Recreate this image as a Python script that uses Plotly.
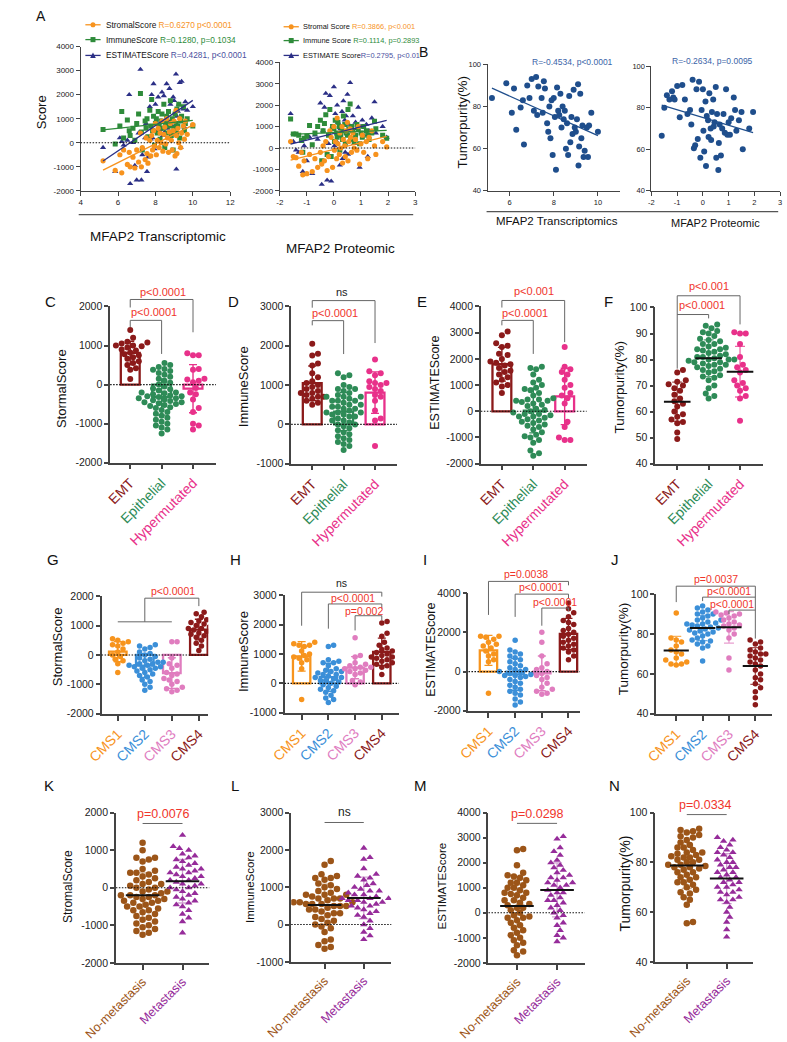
import numpy as np
import plotly.graph_objects as go

W, H = 787, 1042
FONT = "Liberation Sans, Arial, Helvetica, sans-serif"

# ------------------------------------------------------------------ data
# Panels A/B: MFAP2 expression (transcriptomic / proteomic) vs scores
mfap2_transcriptomic = [5.2, 5.85, 6.1, 6.2, 6.3, 6.5, 6.6, 6.65, 6.8, 6.9,
                        7.0, 7.1, 7.2, 7.25, 7.3, 7.45, 7.5, 7.55, 7.6, 7.7,
                        7.75, 7.8, 7.85, 7.9, 7.95, 8.0, 8.05, 8.1, 8.15, 8.2,
                        8.25, 8.3, 8.35, 8.4, 8.45, 8.5, 8.55, 8.6, 8.65, 8.7,
                        8.75, 8.8, 8.85, 8.9, 8.95, 9.0, 9.05, 9.1, 9.12, 9.15,
                        9.2, 9.25, 9.3, 9.35, 9.4, 9.5, 9.55, 9.6, 9.7, 10.0]
stromal_t = [-750, -1150, -500, -1250, -300, -900, -400, -1000, -600, -1050,
             -300, -800, 400, -1000, -200, -700, 200, -450, -850, 100,
             -550, 300, -300, 500, -150, 800, -500, 100, 600, -200,
             400, 0, 900, -350, 350, 650, -50, 1000, 200, -400,
             450, 800, 100, -300, 500, 900, -550, 1350, 300, -450,
             600, 0, 1000, -200, 400, 700, 150, 900, 350, 750]
immune_t = [550, -50, 700, 1300, 200, 950, 500, 300, 600, 100,
            800, 1200, 2050, 450, -300, 900, 600, 1000, 250, 1350,
            700, 1800, 500, 1100, -100, 800, 1000, 400, 1300, 700,
            150, 900, 1200, 600, 1600, -200, 800, 1100, 400, 1300,
            700, 1750, 300, 1000, -300, 600, 1200, 800, 400, 1400,
            700, 1600, 200, 900, 1100, 1500, 500, 800, 1000, 700]
estimate_t = [-200, -1200, 200, 50, -100, 100, 2000, -1700, 0, -950,
              -1550, 400, 3050, -1550, -500, 200, 800, -1200, -600, 1500,
              150, 2000, 200, 2450, -250, 1600, 500, 500, 1900, 500,
              550, 900, 2100, 300, 1950, 450, 750, 2450, 600, 900,
              2250, 1600, 400, 700, 1900, 1750, 650, 2850, -1100, 1100,
              1300, 1600, 2500, -200, 2550, 1400, 650, 1700, 1350, 1500]
purity_t = [84, 91, 77, 88.5, 69, 79.5, 83, 62, 90, 84,
            93, 78, 94, 76, 89.5, 84, 77, 92, 88.5, 72,
            68, 80, 65, 83, 57, 84, 75, 50, 89, 78,
            76, 86, 70, 80, 74, 78, 60, 72, 57, 85,
            63, 75, 67, 88, 70, 68, 74, 90.5, 52, 61,
            86, 65, 71, 56, 59, 70, 56, 71, 77, 68]

mfap2_proteomic = [-1.6, -1.5, -1.4, -1.3, -1.2, -1.15, -1.1, -1.0, -0.9, -0.8,
                   -0.7, -0.6, -0.5, -0.45, -0.4, -0.35, -0.3, -0.25, -0.2, -0.15,
                   -0.1, -0.05, 0.0, 0.02, 0.05, 0.1, 0.12, 0.15, 0.2, 0.22,
                   0.25, 0.3, 0.32, 0.35, 0.4, 0.42, 0.45, 0.5, 0.52, 0.55,
                   0.6, 0.62, 0.65, 0.7, 0.75, 0.8, 0.85, 0.9, 0.95, 1.0,
                   1.05, 1.1, 1.2, 1.25, 1.3, 1.4, 1.5, 1.55, 1.8, 1.95]
stromal_p = [300, -400, -450, -850, -200, -1250, -600, -1200, -300, -1100,
             -500, -900, -200, -750, 100, -600, 300, -1050, -400, 800,
             500, -900, 1000, -100, 300, -500, 1400, 200, -300, 700,
             0, 1000, -700, 400, 100, -400, 800, 1200, -600, 300,
             900, 500, -200, 700, 0, 400, -100, 1000, -750, 200,
             600, -200, 300, -500, 500, 800, 100, -300, 300, 50]
immune_p = [1350, 650, 650, 600, 350, -200, 450, 550, 1050, 150,
            700, 1000, 1300, -600, 800, 1150, 1550, -300, 600, 1800,
            -400, 1000, 900, 300, 1300, 700, 500, 1200, 1000, -100,
            600, 800, 400, 1500, 1100, 200, 700, 600, 1800, 900,
            2050, 400, 1000, 800, 300, 600, 1100, 900, 200, 700,
            500, 1000, 800, 600, 400, 700, 1250, 900, 600, 450]
estimate_p = [1600, 300, -100, -200, 300, -1100, 100, -600, 500, -1200,
              600, 400, 2100, -1700, 800, 1900, 2550, -1500, 200, 2450,
              -1550, 1000, 2850, 100, 1600, 300, 2000, 1200, 700, -800,
              900, 1700, -500, 2200, 1300, -200, 1500, 2500, -300, 1100,
              3050, 800, 400, 1500, 200, 1200, 900, 1900, -900, 1000,
              1300, 600, 1100, -400, 800, 1400, 2150, 700, 1000, 500]
purity_p = [66.5, 80, 86, 84, 88, 85, 84, 90.5, 75.5, 91,
            84, 77, 79, 72, 93.5, 60.5, 62, 89, 65, 92.5,
            56, 79, 89, 69, 59, 83, 52, 76, 74, 66,
            87, 70, 64.5, 78, 84, 71, 73, 90, 56, 77,
            50, 63, 72, 57, 70, 77, 68, 89, 67, 73,
            67, 75, 85, 79, 69, 74, 78, 60, 70, 78]

# Panels C-F: subtype groups
subtypes = ["EMT", "Epithelial", "Hypermutated"]
stromal_emt = [1400, 1200, 1100, 1080, 1050, 1000, 1000, 980, 950, 900, 870, 820, 780, 750, 700, 660, 600, 550, 500, 420, 380, 140]
stromal_epi = [550, 500, 450, 400, 380, 350, 300, 250, 200, 150, 100, 50, 0, -50, -100, -120, -150, -200, -200, -220, -250, -280, -300, -300, -320,
               -350, -350, -380, -400, -420, -450, -450, -480, -500, -520, -550, -580, -600, -650, -700, -750, -800, -850, -900, -950, -1000, -1050, -1100, -1150, -1250]
stromal_hyp = [800, 750, 750, 400, 380, 150, 130, 100, 60, -90, -200, -250, -380, -600, -700, -1000, -1050, -1150]
immune_emt = [2050, 1800, 1750, 1550, 1500, 1300, 1200, 1100, 1050, 1000, 950, 900, 850, 800, 800, 750, 700, 700, 650, 600, 550, 500]
immune_epi = [1300, 1250, 1200, 1000, 950, 900, 900, 850, 800, 750, 700, 700, 650, 600, 600, 550, 500, 500, 450, 400, 400, 350, 300, 300, 250,
              200, 200, 150, 100, 100, 50, 0, 0, -50, -100, -150, -200, -250, -300, -350, -400, -450, -500, -550, -650, 600, 450, 300, 700, 250]
immune_hyp = [1650, 1350, 1300, 1250, 1100, 1050, 1050, 1000, 950, 900, 850, 750, 700, 600, 350, 150, 100, -550]
estimate_emt = [3050, 2900, 2600, 2500, 2450, 2200, 2150, 2000, 1900, 1850, 1800, 1750, 1650, 1550, 1500, 1400, 1300, 1200, 1100, 1000, 950, 700]
estimate_epi = [1700, 1650, 1600, 1400, 1200, 1100, 1000, 900, 850, 800, 700, 600, 500, 450, 400, 400, 300, 250, 200, 100, 50, 0, -50, -100,
                -150, -200, -250, -300, -350, -400, -450, -500, -550, -600, -700, -800, -900, -950, -1000, -1100, -1200, -1500, -1600, -1700, 450, 350, -100, -200]
estimate_hyp = [2450, 1700, 1600, 1500, 1400, 1200, 1000, 900, 700, 600, 500, 300, -400, -600, -1000, -1100, -1100]
purity_emt = [76, 75, 72, 71.5, 70.5, 70, 69, 68, 66.5, 65, 64, 63, 62, 60, 59, 58, 57, 56, 55.5, 52, 49.5]
purity_epi = [93.5, 93, 92, 91, 90.5, 90, 89, 88, 87.5, 87, 86, 85, 84.5, 84, 83.5, 83, 82.5, 82, 81.5, 81, 80.5, 80, 80, 79.5, 79,
              78.5, 78, 78, 77.5, 77, 76.5, 76, 75.5, 75, 74, 73.5, 73, 72, 70, 69, 67, 66, 65, 80, 81, 79, 84, 86]
purity_hyp = [90.5, 90, 90, 86, 81, 78, 77, 76, 75, 72, 71, 70, 69, 68, 66, 65, 56.5]

# Panels G-J: CMS groups
cms = ["CMS1", "CMS2", "CMS3", "CMS4"]
stromal_cms1 = [550, 500, 450, 400, 350, 300, 200, 100, 0, -50, -150, -200, -300, -600]
stromal_cms2 = [350, 300, 250, 200, 100, 50, 0, -50, -100, -150, -200, -250, -250, -300, -300, -350, -350, -400, -400, -450, -450, -500,
                -550, -600, -650, -700, -750, -850, -900, -1000, -1100, -1200]
stromal_cms3 = [450, 450, -100, -300, -350, -450, -600, -650, -700, -800, -850, -900, -1000, -1100, -1150, -1200, -1250]
stromal_cms4 = [1450, 1400, 1300, 1200, 1150, 1100, 1050, 1000, 950, 900, 900, 850, 800, 750, 700, 650, 600, 500, 400, 300, 150]
immune_cms1 = [1400, 1350, 1300, 1300, 1250, 1100, 1000, 950, 900, 850, 800, 700, 500, -550]
immune_cms2 = [1300, 1250, 800, 750, 700, 700, 600, 500, 450, 400, 350, 300, 250, 200, 150, 100, 100, 50, 0, -50, -100, -150, -200, -250,
               -300, -400, -500, -550, -650, 200, 300, 400]
immune_cms3 = [1550, 950, 900, 700, 650, 600, 550, 550, 500, 500, 450, 400, 350, 300, 100, 50, -50]
immune_cms4 = [2100, 2050, 1700, 1600, 1400, 1300, 1200, 1100, 1050, 1000, 950, 900, 850, 800, 750, 700, 650, 600, 550, 300, 1150, 900]
estimate_cms1 = [1800, 1800, 1750, 1650, 1500, 1400, 1300, 1200, 1050, 900, 800, 600, 500, -1100]
estimate_cms2 = [1600, 1100, 1000, 900, 800, 700, 600, 500, 400, 300, 200, 100, 0, -100, -150, -200, -250, -300, -400, -500, -600, -700,
                 -800, -900, -1000, -1100, -1200, -1400, -1550, -1700, 0, 100, -200]
estimate_cms3 = [2000, 1500, 800, 400, 200, 100, 0, -100, -200, -300, -400, -600, -800, -900, -1000, -1100, -1150]
estimate_cms4 = [3500, 3200, 3000, 2800, 2600, 2500, 2400, 2200, 2100, 2000, 1900, 1800, 1700, 1600, 1500, 1400, 1300, 1200, 1100, 1000, 800, 600]
purity_cms1 = [90.5, 78, 77, 76, 74, 72, 71, 70, 68, 67, 66, 65, 65, 64.5]
purity_cms2 = [94, 93, 92, 91, 90, 89, 88, 87, 86, 85.5, 85, 84.5, 84, 83.5, 83, 82.5, 82, 81.5, 81, 80.5, 80, 79, 78, 77, 76.5, 76, 75,
               74, 73, 66.5, 85, 87, 90]
purity_cms3 = [91, 90.5, 90, 89.5, 89, 88, 87, 86, 85, 84.5, 84, 83, 82, 80, 78, 68, 62]
purity_cms4 = [77, 76, 75, 73, 72, 71, 70, 69, 68, 67, 66, 65, 64, 62, 60, 58, 57, 55, 53, 51, 48, 44.5, 70]

# Panels K-N: metastasis groups
metastasis = ["No-metastasis", "Metastasis"]
stromal_nomet = [1200, 1000, 800, 800, 750, 700, 500, 450, 400, 400, 350, 300, 250, 200, 150, 100, 50, 0, -50, -100, -100, -150, -200, -200,
                 -250, -300, -300, -350, -400, -400, -450, -500, -500, -550, -600, -650, -700, -750, -800, -850, -900, -950, -1000, -1050,
                 -1100, -1150, -1200, -1250, -250, -200, 100, -600, 0, -350]
stromal_met = [1400, 1100, 1050, 1000, 900, 850, 800, 750, 700, 650, 600, 550, 500, 450, 400, 350, 300, 250, 200, 150, 100, 50, 0, -50,
               -100, -150, -200, -250, -300, -350, -400, -450, -500, -600, -700, -800, -900, -1200, 300, 500, 200, 0, 100, 400]
immune_nomet = [1700, 1600, 1350, 1300, 1250, 1250, 1200, 1100, 1050, 1000, 950, 900, 850, 800, 800, 750, 700, 700, 650, 600, 600, 550, 550,
                500, 500, 450, 400, 400, 350, 300, 250, 200, 150, 100, 50, 0, -50, -100, -200, -400, -450, -550, -600, -650, 600, 700, 500,
                800, 300, 550]
immune_met = [2050, 1800, 1750, 1500, 1350, 1300, 1250, 1200, 1100, 1050, 1000, 950, 900, 850, 800, 750, 700, 700, 650, 600, 550, 500,
              450, 400, 350, 300, 250, 200, 100, 0, -100, -200, -300, -400, 600, 800, 700, 900, 500, 650]
estimate_nomet = [2550, 2500, 1900, 1600, 1500, 1450, 1400, 1300, 1200, 1100, 1000, 900, 800, 750, 700, 600, 500, 400, 350, 300, 200, 100,
                  0, -100, -200, -200, -300, -400, -500, -600, -700, -800, -900, -1000, -1100, -1200, -1300, -1500, -1550, -1700, 1000, 500,
                  200, 1200, 800, -150]
estimate_met = [3050, 2950, 2600, 2450, 2300, 2100, 2000, 1900, 1800, 1700, 1600, 1500, 1400, 1300, 1200, 1100, 1000, 900, 800, 700, 600,
                500, 400, 300, 200, 100, 0, -100, -200, -400, -500, -700, -900, -1000, -1150, 1400, 1100, 800, 500, 1200]
purity_nomet = [93.5, 93, 92.5, 92, 91, 90.5, 90, 89, 88, 87, 86, 85, 84, 83.5, 83, 82.5, 82, 81, 80, 79, 78.5, 78, 77.5, 77, 76, 75, 74,
                73, 72, 71, 70, 69, 68, 67.5, 66, 65, 63, 56, 55.5, 84, 80, 78, 76, 74, 72, 86, 81, 79, 82]
purity_met = [90, 89, 88.5, 87, 86, 85, 84, 83, 82, 81, 80, 79, 78, 77, 76, 75, 74, 73, 72, 71, 70, 69, 68, 67, 66, 65, 64, 62, 60, 58, 56,
              53, 50, 76, 72, 70, 68, 74, 80, 65, 78, 84]

# ------------------------------------------------------------------ styles
C_OR = "#F7931E"
C_GR = "#2E8B3A"
C_NV = "#2B2F86"
C_NVT = "#4A4F9E"
C_BL = "#1F4E8C"
C_EMT = "#8B1A1A"
C_EPI = "#2E8B57"
C_HYP = "#E8318A"
C_CMS = ["#F7941D", "#3B8FD8", "#E07DBF", "#8B1A1A"]
C_NOMET = "#9C5518"
C_MET = "#962C9A"
RED = "#F0352B"
BRK = "#666666"
AXC = "#444444"


def rgba(hexc, a):
    h = hexc.lstrip('#')
    return "rgba(%d,%d,%d,%.2f)" % (int(h[0:2], 16), int(h[2:4], 16), int(h[4:6], 16), a)


fig = go.Figure()
layout = {}
shapes = []
annotations = []
ranges = {}


def names(k):
    s = '' if k == 1 else str(k)
    return 'x' + s, 'y' + s, 'xaxis' + s, 'yaxis' + s


def add_axes(k, box, xrange, yrange, yticks, tickfont, xticks, xtext=None, xangle=0, xfont=None, lw=1.0, xticklen=4):
    l, r, t, b = box
    xid, yid, xname, yname = names(k)
    ranges[k] = (box, xrange, yrange)
    common = dict(showline=True, linecolor=AXC, linewidth=lw, ticks='outside', tickcolor=AXC, tickwidth=lw,
                  showgrid=False, zeroline=False, fixedrange=True)
    layout[xname] = dict(domain=[l / W, r / W], range=xrange, anchor=yid, ticklen=xticklen, tickvals=xticks,
                         ticktext=xtext if xtext is not None else [str(v) for v in xticks], tickangle=xangle,
                         tickfont=dict(size=xfont or tickfont, family=FONT, color='#222'), **common)
    layout[yname] = dict(domain=[1 - b / H, 1 - t / H], range=yrange, anchor=xid, ticklen=4, tickvals=yticks,
                         ticktext=[str(v) for v in yticks], tickfont=dict(size=tickfont, family=FONT, color='#222'), **common)


def to_paper(k, xv, yv):
    (l, r, t, b), (x0, x1), (y0, y1) = ranges[k]
    px = l + (xv - x0) / (x1 - x0) * (r - l)
    py = b - (yv - y0) / (y1 - y0) * (b - t)
    return px / W, 1 - py / H


def text_px(txt, x, y, size, color='#111', xanchor='center', yanchor='middle', angle=0):
    annotations.append(dict(text=txt, x=x / W, y=1 - y / H, xref='paper', yref='paper', showarrow=False,
                            xanchor=xanchor, yanchor=yanchor, textangle=angle,
                            font=dict(size=size, color=color, family=FONT)))


def pline(x0, y0, x1, y1, color=BRK, width=1.0, dash=None):
    d = dict(type='line', xref='paper', yref='paper', x0=x0, y0=y0, x1=x1, y1=y1,
             line=dict(color=color, width=width))
    if dash:
        d['line']['dash'] = dash
    shapes.append(d)


def zero_line(k):
    (l, r, t, b), xr_, yr_ = ranges[k]
    _, py = to_paper(k, xr_[0], 0)
    pline(l / W, py, r / W, py, color='#111', width=1.1, dash='1.5px,1.5px')


def bracket(k, xa, xb, y, ya, yb):
    def seg(x0, y0, x1, y1):
        p0 = to_paper(k, x0, y0)
        p1 = to_paper(k, x1, y1)
        pline(p0[0], p0[1], p1[0], p1[1])
    seg(xa, y, xb, y)
    if ya != y:
        seg(xa, y, xa, ya)
    if yb != y:
        seg(xb, y, xb, yb)


def ptext(k, txt, xv, yv, size, color=RED):
    px, py = to_paper(k, xv, yv)
    annotations.append(dict(text=txt, x=px, y=py, xref='paper', yref='paper', showarrow=False,
                            xanchor='center', yanchor='middle', font=dict(size=size, color=color, family=FONT)))


def swarm(vals, ux, uy, d):
    vals = np.asarray(vals, float)
    order = np.argsort(vals, kind='stable')
    placed = []
    offs = np.zeros(len(vals))
    step = d * 0.5
    for idx in order:
        ypx = vals[idx] / uy
        j = 0
        while True:
            cand = 0.0 if j == 0 else ((j + 1) // 2) * step * (1 if j % 2 else -1)
            if all((cand - px) ** 2 + (ypx - py) ** 2 >= (d * 0.92) ** 2 for px, py in placed):
                break
            j += 1
        placed.append((cand, ypx))
        offs[idx] = cand * ux
    return offs


def cat_panel(k, datasets, colors, kind, dot, symbols=None, barw=0.6, meanlen=18, err_alpha=1.0):
    (l, r, t, b), (x0, x1), (y0, y1) = ranges[k]
    ux = (x1 - x0) / (r - l)
    uy = (y1 - y0) / (b - t)
    xid, yid, _, _ = names(k)
    for i, (vals, c) in enumerate(zip(datasets, colors)):
        v = np.asarray(vals, float)
        m, sd = v.mean(), v.std(ddof=1)
        if kind == 'bar':
            fig.add_trace(go.Bar(x=[i], y=[m], width=barw, xaxis=xid, yaxis=yid, hoverinfo='skip',
                                 marker=dict(color='rgba(255,255,255,0)', line=dict(color=c, width=2.3)),
                                 error_y=dict(type='data', array=[sd], color=c, thickness=1.4, width=4)))
        offs = swarm(v, ux, uy, dot)
        sym = symbols[i] if symbols else 'circle'
        fig.add_trace(go.Scatter(x=i + offs, y=v, mode='markers', xaxis=xid, yaxis=yid, hoverinfo='skip',
                                 marker=dict(size=dot, color=c, symbol=sym, line=dict(width=0))))
        if kind == 'mean':
            fig.add_trace(go.Scatter(x=[i], y=[m], mode='markers', xaxis=xid, yaxis=yid, hoverinfo='skip',
                                     marker=dict(symbol='line-ew', size=meanlen, color='#111',
                                                 line=dict(color='#111', width=2)),
                                     error_y=dict(type='data', array=[sd], color=rgba(c, err_alpha),
                                                  thickness=1.3, width=5)))


def cat_text(groups, colors):
    return ["<span style='color:%s'>%s</span>" % (c, g) for g, c in zip(groups, colors)]


# ------------------------------------------------------------------ Panel A
add_axes(1, (51, 208, 41, 187), [4, 12], [-2000, 4000], list(range(-2000, 4001, 1000)), 8, [4, 6, 8, 10, 12])
add_axes(2, (260, 402, 57, 187), [-2, 3], [-2000, 4000], list(range(-2000, 4001, 1000)), 8, [-2, -1, 0, 1, 2, 3])
zero_line(1)
zero_line(2)

for k, xs, series in [(1, mfap2_transcriptomic, [(estimate_t, C_NV, 'triangle-up', 5.5), (immune_t, C_GR, 'square', 5), (stromal_t, C_OR, 'circle', 5.2)]),
                      (2, mfap2_proteomic, [(estimate_p, C_NV, 'triangle-up', 5.5), (immune_p, C_GR, 'square', 5), (stromal_p, C_OR, 'circle', 5.2)])]:
    xid, yid, _, _ = names(k)
    xs_a = np.asarray(xs, float)
    for ys, c, sym, sz in series:
        fig.add_trace(go.Scatter(x=xs_a, y=ys, mode='markers', xaxis=xid, yaxis=yid, hoverinfo='skip',
                                 marker=dict(size=sz, color=c, symbol=sym, line=dict(width=0))))
    for ys, c, sym, sz in series:
        coef = np.polyfit(xs_a, np.asarray(ys, float), 1)
        xl = np.array([xs_a.min(), xs_a.max()])
        fig.add_trace(go.Scatter(x=xl, y=np.polyval(coef, xl), mode='lines', xaxis=xid, yaxis=yid,
                                 hoverinfo='skip', line=dict(color=c, width=1.3)))

# legends for A (drawn glyphs + text)
leg_left = [("StromalScore ", "R=0.6270 p&lt;0.0001", C_OR, C_OR, 'circle'),
            ("ImmuneScore ", "R=0.1280, p=0.1034", C_GR, C_GR, 'square'),
            ("ESTIMATEScore ", "R=0.4281, p&lt;0.0001", C_NV, C_NVT, 'tri')]
leg_right = [("Stromal Score ", "R=0.3866, p&lt;0.001", C_OR, C_OR, 'circle'),
             ("Immune Score ", "R=0.1114, p=0.2893", C_GR, C_GR, 'square'),
             ("ESTIMATE Score", "R=0.2795, p&lt;0.01", C_NV, C_NVT, 'tri')]
for (sx, tx, rows, items, fsz) in [(64, 76, [19, 34, 50], leg_left, 8.3), (272, 282, [21, 35, 50], leg_right, 7.4)]:
    for yrow, (nm, rt, c, tc, g) in zip(rows, items):
        pline((sx - 8) / W, 1 - yrow / H, (sx + 8) / W, 1 - yrow / H, color=c, width=1.3)
        rr = 2.6
        if g == 'circle':
            shapes.append(dict(type='circle', xref='paper', yref='paper', x0=(sx - rr) / W, x1=(sx + rr) / W,
                               y0=1 - (yrow + rr) / H, y1=1 - (yrow - rr) / H, fillcolor=c, line=dict(width=0)))
        elif g == 'square':
            shapes.append(dict(type='rect', xref='paper', yref='paper', x0=(sx - rr) / W, x1=(sx + rr) / W,
                               y0=1 - (yrow + rr) / H, y1=1 - (yrow - rr) / H, fillcolor=c, line=dict(width=0)))
        else:
            p = "M %.5f %.5f L %.5f %.5f L %.5f %.5f Z" % ((sx - 3) / W, 1 - (yrow + 2.5) / H, (sx + 3) / W,
                                                          1 - (yrow + 2.5) / H, sx / W, 1 - (yrow - 3) / H)
            shapes.append(dict(type='path', xref='paper', yref='paper', path=p, fillcolor=c, line=dict(width=0)))
        text_px("%s<span style='color:%s'>%s</span>" % (nm, tc, rt), tx, yrow, fsz, xanchor='left')

text_px("A", 2, 10, 14, xanchor='left')
text_px("Score", 10, 108, 13, angle=-90)
pline(49 / W, 1 - 211 / H, 400 / W, 1 - 211 / H, color='#555', width=1.2)
text_px("MFAP2 Transcriptomic", 132, 233, 13.5)
text_px("MFAP2 Proteomic", 324, 245, 13.5)

# ------------------------------------------------------------------ Panel B
add_axes(3, (478, 617, 59, 187), [5, 11], [40, 100], [40, 60, 80, 100], 7.5, [6, 8, 10])
add_axes(4, (650, 785, 61, 187), [-2, 3], [40, 100], [40, 60, 80, 100], 7.5, [-2, -1, 0, 1, 2, 3])
for k, xs, ys in [(3, mfap2_transcriptomic, purity_t), (4, mfap2_proteomic, purity_p)]:
    xid, yid, _, _ = names(k)
    xs_a = np.asarray(xs, float)
    fig.add_trace(go.Scatter(x=xs_a, y=ys, mode='markers', xaxis=xid, yaxis=yid, hoverinfo='skip',
                             marker=dict(size=6, color=C_BL, line=dict(width=0))))
    coef = np.polyfit(xs_a, np.asarray(ys, float), 1)
    xl = np.array([xs_a.min(), xs_a.max()])
    fig.add_trace(go.Scatter(x=xl, y=np.polyval(coef, xl), mode='lines', xaxis=xid, yaxis=yid,
                             hoverinfo='skip', line=dict(color=C_BL, width=1.2)))
text_px("B", 404, 47, 14, xanchor='left')
text_px("R=-0.4534, p&lt;0.0001", 567, 57, 8.5, color="#3A64A8")
text_px("R=-0.2634, p=0.0095", 714, 56, 8.5, color="#3A64A8")
text_px("Tumorpurity(%)", 452, 117, 13.5, angle=-90)
pline(477 / W, 1 - 208 / H, 783 / W, 1 - 208 / H, color='#555', width=1.2)
text_px("MFAP2 Transcriptomics", 551, 218, 11.5)
text_px("MFAP2 Proteomic", 717, 220, 11)

# ------------------------------------------------------------------ Panels C-F
sub_cols = [C_EMT, C_EPI, C_HYP]
sub_txt = cat_text(subtypes, sub_cols)
kw = dict(xtext=sub_txt, xangle=-45, xfont=14, lw=1.5, xticklen=5)
add_axes(5, (82, 193, 304, 462), [-0.64, 2.73], [-2000, 2000], [-2000, -1000, 0, 1000, 2000], 10.5, [0, 1, 2], **kw)
add_axes(6, (272, 383, 304, 463), [-0.67, 2.7], [-1000, 3000], [-1000, 0, 1000, 2000, 3000], 10.5, [0, 1, 2], **kw)
add_axes(7, (471, 582, 304, 463), [-0.67, 2.7], [-2000, 4000], list(range(-2000, 4001, 1000)), 10.5, [0, 1, 2], **kw)
add_axes(8, (654, 767, 305, 463), [-0.7, 2.73], [40, 100], [40, 50, 60, 70, 80, 90, 100], 10.5, [0, 1, 2], **kw)
for k in (5, 6, 7):
    zero_line(k)
cat_panel(5, [stromal_emt, stromal_epi, stromal_hyp], sub_cols, 'bar', 6)
cat_panel(6, [immune_emt, immune_epi, immune_hyp], sub_cols, 'bar', 6)
cat_panel(7, [estimate_emt, estimate_epi, estimate_hyp], sub_cols, 'bar', 6)
cat_panel(8, [purity_emt, purity_epi, purity_hyp], sub_cols, 'mean', 6, meanlen=19, err_alpha=0.75)

for k, specs in [(5, [(0, 2, 2180, 1975, 1340), (0, 1, 1645, 1470, 785)]),
                 (6, [(0, 2, 3150, 2970, 2070), (0, 1, 2640, 2520, 1790)]),
                 (7, [(0, 2, 4230, 3960, 2640), (0, 1, 3470, 3280, 2190)]),
                 (8, [(0, 2, 104.5, 76.5, 93.5), (0, 1, 97.3, 97.3, 95.8)])]:
    for s in specs:
        bracket(k, *s)
ptext(5, "p&lt;0.0001", 1.03, 2380, 11)
ptext(5, "p&lt;0.0001", 0.75, 1850, 11)
ptext(6, "ns", 0.94, 3377, 11, color='#222')
ptext(6, "p&lt;0.0001", 0.73, 2824, 11)
ptext(7, "p&lt;0.001", 1.03, 4604, 11)
ptext(7, "p&lt;0.0001", 0.73, 3736, 11)
ptext(8, "p&lt;0.001", 1.0, 108.4, 11)
ptext(8, "p&lt;0.0001", 0.79, 101.1, 11)

text_px("C", 12, 299, 15, xanchor='left')
text_px("D", 204, 299, 15, xanchor='left')
text_px("E", 402, 299, 15, xanchor='left')
text_px("F", 598, 299, 15, xanchor='left')
text_px("StormalScore", 31, 387, 13, angle=-90)
text_px("ImmuneScore", 222, 385, 13, angle=-90)
text_px("ESTIMATEScore", 422, 381, 12.5, angle=-90)
text_px("Tumorpurity(%)", 617, 385, 13.5, angle=-90)

# ------------------------------------------------------------------ Panels G-J
cms_txt = cat_text(cms, C_CMS)
kw = dict(xtext=cms_txt, xangle=-45, xfont=14, lw=1.5, xticklen=5)
add_axes(9, (73, 185, 597, 716), [-0.6, 3.35], [-2000, 2000], [-2000, -1000, 0, 1000, 2000], 10.5, [0, 1, 2, 3], **kw)
add_axes(10, (265, 385, 596, 715), [-0.64, 3.64], [-1000, 3000], [-1000, 0, 1000, 2000, 3000], 10.5, [0, 1, 2, 3], **kw)
add_axes(11, (458, 575, 594, 713), [-0.75, 3.43], [-2000, 4000], [-2000, 0, 2000, 4000], 10.5, [0, 1, 2, 3], **kw)
add_axes(12, (655, 777, 595, 716), [-0.76, 3.65], [40, 100], [40, 60, 80, 100], 10.5, [0, 1, 2, 3], **kw)
for k in (9, 10, 11):
    zero_line(k)
cat_panel(9, [stromal_cms1, stromal_cms2, stromal_cms3, stromal_cms4], C_CMS, 'bar', 5.5, barw=0.65)
cat_panel(10, [immune_cms1, immune_cms2, immune_cms3, immune_cms4], C_CMS, 'bar', 5.5, barw=0.65)
cat_panel(11, [estimate_cms1, estimate_cms2, estimate_cms3, estimate_cms4], C_CMS, 'bar', 5.5, barw=0.65)
cat_panel(12, [purity_cms1, purity_cms2, purity_cms3, purity_cms4], C_CMS, 'mean', 5.5, meanlen=18, err_alpha=0.75)

for k, specs in [(9, [(0, 2, 1126, 1126, 1126), (1, 3, 1930, 1126, 1660)]),
                 (10, [(0, 3, 3100, 1960, 2950), (1, 3, 2700, 1860, 2550), (2, 3, 2300, 1800, 2150)]),
                 (11, [(0, 3, 4600, 2890, 4400), (1, 3, 3950, 2790, 3750), (2, 3, 3240, 2340, 3090)]),
                 (12, [(0, 3, 104, 96, 77.7), (1, 3, 98.5, 96.5, 98.5), (2, 3, 92, 90, 92)])]:
    for s in specs:
        bracket(k, *s)
ptext(9, "p&lt;0.0001", 2.05, 2168, 10.5)
ptext(10, "ns", 1.5, 3403, 10.5, color='#222')
ptext(10, "p&lt;0.0001", 1.93, 2899, 10.5)
ptext(10, "p=0.002", 2.32, 2462, 10.5)
ptext(11, "p=0.0038", 1.39, 4958, 10.5)
ptext(11, "p&lt;0.0001", 1.96, 4303, 10.5)
ptext(11, "p&lt;0.0001", 2.5, 3546, 10.5)
ptext(12, "p=0.0037", 1.52, 107.4, 10.5)
ptext(12, "p&lt;0.0001", 2.02, 101.5, 10.5)
ptext(12, "p&lt;0.0001", 2.13, 95.0, 10.5)

text_px("G", 14, 560, 15, xanchor='left')
text_px("H", 206, 560, 15, xanchor='left')
text_px("I", 408, 560, 15, xanchor='left')
text_px("J", 605, 560, 15, xanchor='left')
text_px("StormalScore", 27, 648, 13, angle=-90)
text_px("ImmuneScore", 222, 653, 13, angle=-90)
text_px("ESTIMATEScore", 418, 651, 12.5, angle=-90)
text_px("Tumorpurity(%)", 621, 650, 13.5, angle=-90)

# ------------------------------------------------------------------ Panels K-N
met_cols = [C_NOMET, C_MET]
met_txt = cat_text(metastasis, met_cols)
kw = dict(xtext=met_txt, xangle=-45, xfont=12.5, lw=1.5, xticklen=5)
add_axes(13, (88, 186, 816, 968), [-0.67, 1.67], [-2000, 2000], [-2000, -1000, 0, 1000, 2000], 10.5, [0, 1], **kw)
add_axes(14, (272, 377, 816, 967), [-0.85, 1.7], [-1000, 3000], [-1000, 0, 1000, 2000, 3000], 10.5, [0, 1], **kw)
add_axes(15, (479, 580, 816, 968), [-0.71, 1.69], [-2000, 4000], list(range(-2000, 4001, 1000)), 10.5, [0, 1], **kw)
add_axes(16, (654, 757, 816, 967), [-0.79, 1.67], [40, 100], [40, 60, 80, 100], 10.5, [0, 1], **kw)
for k in (13, 14, 15):
    zero_line(k)
msym = ['circle', 'triangle-up']
cat_panel(13, [stromal_nomet, stromal_met], met_cols, 'mean', 6.5, symbols=msym, meanlen=24, err_alpha=0.45)
cat_panel(14, [immune_nomet, immune_met], met_cols, 'mean', 6.5, symbols=msym, meanlen=24, err_alpha=0.45)
cat_panel(15, [estimate_nomet, estimate_met], met_cols, 'mean', 6.5, symbols=msym, meanlen=24, err_alpha=0.45)
cat_panel(16, [purity_nomet, purity_met], met_cols, 'mean', 6.5, symbols=msym, meanlen=24, err_alpha=0.45)

for k, y in [(13, 1710), (14, 2735), (15, 3570), (16, 99.2)]:
    bracket(k, 0, 1, y, y, y)
ptext(13, "p=0.0076", 0.52, 1974, 12.5)
ptext(14, "ns", 0.51, 3026, 12, color='#222')
ptext(15, "p=0.0298", 0.5, 3960, 12.5)
ptext(16, "p=0.0334", 0.48, 103.2, 12.5)

text_px("K", 10, 789, 15, xanchor='left')
text_px("L", 207, 789, 15, xanchor='left')
text_px("M", 399, 789, 15, xanchor='left')
text_px("N", 603, 789, 15, xanchor='left')
text_px("StromalScore", 38, 891, 12, angle=-90)
text_px("ImmuneScore", 229, 891, 11.5, angle=-90)
text_px("ESTIMATEScore", 430, 890, 11.5, angle=-90)
text_px("Tumorpurity(%)", 622, 888, 14, angle=-90)

layout.update(width=W, height=H, autosize=False, margin=dict(l=0, r=0, t=0, b=0),
              paper_bgcolor='white', plot_bgcolor='rgba(0,0,0,0)', showlegend=False,
              barmode='overlay', hovermode=False, font=dict(family=FONT, color='#222'),
              shapes=shapes, annotations=annotations)
fig.update_layout(**layout)
fig.write_html("out.html", config={'displayModeBar': False})
